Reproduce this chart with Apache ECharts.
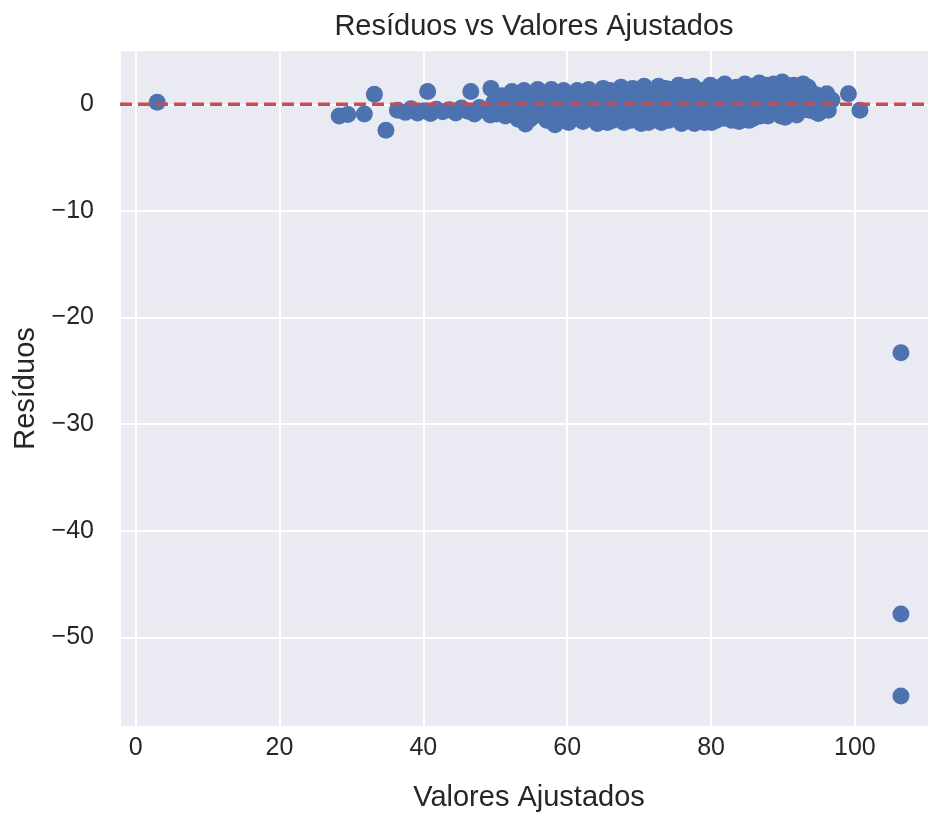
<!DOCTYPE html>
<html>
<head>
<meta charset="utf-8">
<script src="https://cdn.jsdelivr.net/npm/echarts@6/dist/echarts.min.js"></script>
<style>
  html, body { margin: 0; padding: 0; background: #fff; }
  #chart { width: 929px; height: 818px; }
</style>
</head>
<body>
<div id="chart"></div>
<script>
// [valor ajustado, resíduo]
const isolatedPoints = [
  [3.0, 0.2], [28.3, -1.1], [29.5, -0.95], [31.8, -0.9], [33.2, 0.94], [34.8, -2.43],
  [40.6, 1.2], [46.6, 1.2], [49.4, 1.5], [99.1, 1.0], [100.7, -0.56]
];
const outlierPoints = [[106.4, -23.3], [106.4, -47.8], [106.4, -55.5]];
const clusterPoints = [
  [36.4, -0.55], [37.5, -0.75], [38.3, -0.4], [39.2, -0.8], [40.1, -0.6], [41.0, -0.85],
  [41.8, -0.45], [42.7, -0.7], [43.6, -0.5], [44.5, -0.8], [45.3, -0.35], [46.2, -0.65],
  [47.1, -0.9], [47.8, -0.3], [48.6, -0.6], [49.3, -1.0], [49.8, 0.2], [50.5, -0.4],
  [50.9, 0.8], [51.4, -1.1], [51.9, 0.3], [52.3, 1.2], [52.8, -0.6], [53.2, -1.4],
  [53.6, 0.6], [54.0, 1.3], [54.2, -1.85], [54.6, -0.2], [55.1, -1.2], [55.5, 0.9],
  [55.9, 1.4], [56.3, -0.7], [56.8, 0.2], [57.2, -1.5], [57.6, 1.1], [57.9, -0.1],
  [58.3, -1.9], [58.7, 0.7], [59.1, -1.0], [59.5, 1.3], [59.8, -0.4], [60.2, -1.7],
  [60.5, 0.2], [61.0, -0.9], [61.4, 1.3], [61.8, 0.5], [62.2, -1.6], [62.6, -0.3],
  [63.0, 1.4], [63.4, 0.6], [63.8, -1.2], [64.2, -1.8], [64.6, 0.0], [65.0, 1.5],
  [65.4, -0.7], [65.8, 0.8], [66.3, -1.5], [66.7, 1.2], [67.1, -0.2], [67.5, 1.6],
  [67.9, -1.7], [68.3, 0.4], [68.7, -1.0], [69.1, 1.5], [69.5, -0.5], [69.9, 0.9],
  [70.3, -1.8], [70.7, 1.7], [71.1, 0.1], [71.5, -1.3], [71.9, 1.1], [72.3, -0.6],
  [72.7, 1.7], [73.1, -1.7], [73.5, 0.6], [73.9, -0.2], [74.3, 1.4], [74.7, -1.1],
  [75.1, 0.3], [75.5, 1.8], [75.9, -1.8], [76.3, -0.5], [76.7, 1.0], [77.1, -1.4],
  [77.5, 1.7], [77.9, 0.2], [78.3, -0.9], [78.7, 1.3], [79.1, -1.7], [79.5, 0.6],
  [79.9, 1.8], [80.3, -0.3], [80.7, -1.5], [81.1, 1.1], [81.5, 0.0], [81.9, 1.9],
  [82.3, -1.2], [82.7, 0.7], [83.1, -0.6], [83.5, 1.6], [83.9, -1.6], [84.3, 0.3],
  [84.7, 1.9], [85.1, -0.9], [85.5, 1.2], [85.9, -1.3], [86.3, 0.5], [86.7, 2.0],
  [87.1, -0.4], [87.5, 1.4], [87.9, -1.1], [88.3, 0.8], [88.7, 1.9], [89.1, -0.7],
  [89.5, 0.2], [89.9, 2.1], [90.3, -1.2], [90.7, 1.3], [91.1, -0.3], [91.5, 1.8],
  [91.9, -1.0], [92.3, 0.6], [92.8, 1.9], [93.3, -0.5], [93.8, 1.2], [94.3, 0.3],
  [94.9, -0.85], [95.4, 0.6], [96.1, 1.0], [96.3, -0.56], [96.8, 0.4],
  [50.2, -0.9], [50.8, 0.4], [51.6, -0.3], [52.0, 0.9], [52.5, -1.0], [53.0, 0.1],
  [53.4, 1.0], [53.9, -0.8], [54.4, 0.5], [54.8, -1.4], [55.3, 0.0], [55.7, -0.5],
  [56.1, 1.0], [56.6, -1.1], [57.0, 0.6], [57.4, -0.6], [57.8, 1.4], [58.1, -1.3],
  [58.5, 0.3], [58.9, -0.5], [59.3, 0.9], [59.6, -1.5], [60.0, -0.9], [60.8, -1.3],
  [61.2, 0.0], [61.6, -0.5], [62.0, 0.9], [62.4, -1.0], [62.8, 0.3], [63.2, -0.7],
  [63.6, 1.0], [64.0, -0.3], [64.4, 0.7], [64.8, -1.1], [65.2, 0.3], [65.6, -1.7],
  [66.0, 1.3], [66.5, -0.4], [66.9, 0.4], [67.3, -1.1], [67.7, 0.9], [68.1, -0.5],
  [68.5, 1.2], [68.9, -1.5], [69.3, 0.1], [69.7, -1.2], [70.1, 0.5], [70.5, -0.8],
  [70.9, 1.2], [71.3, -1.7], [71.7, 0.5], [72.1, -1.1], [72.5, 0.2], [72.9, 1.0],
  [73.3, -1.0], [73.7, 1.5], [74.1, -1.5], [74.5, 0.8], [74.9, -0.6], [75.3, 1.1],
  [75.7, -1.2], [76.1, 0.5], [76.5, 1.6], [76.9, -0.9], [77.3, 0.6], [77.7, -1.8],
  [78.1, 1.1], [78.5, -0.3], [78.9, 0.3], [79.3, -1.2], [79.7, 1.2], [80.1, -1.7],
  [80.5, 0.6], [80.9, -0.8], [81.3, 1.6], [81.7, -1.3], [82.1, 0.4], [82.5, 1.3],
  [82.9, -1.5], [83.3, 0.1], [83.7, -1.0], [84.1, 1.1], [84.5, -0.3], [84.9, 0.8],
  [85.3, -1.5], [85.7, 1.7], [86.1, -0.5], [86.5, 1.1], [86.9, -1.1], [87.3, 0.4],
  [87.7, 1.8], [88.1, -0.8], [88.5, 1.3], [88.9, -0.2], [89.3, 1.6], [89.7, -1.1],
  [90.1, 0.7], [90.5, 1.8], [90.9, -0.7], [91.3, 0.4], [91.7, 1.1], [92.1, -0.4],
  [92.5, 1.5], [93.0, 0.1], [93.5, 1.6], [94.0, -0.6], [94.6, 0.9], [95.1, 0.1],
  [95.7, -0.3],
  [49.9, -0.5], [51.1, -0.7], [52.6, 0.5], [53.8, -0.3], [55.0, 0.5], [56.4, 0.4],
  [57.5, 0.1], [59.0, 0.2], [60.6, -0.4], [62.5, 0.5], [64.1, 0.3], [65.9, -0.8],
  [67.0, 0.7], [68.8, -0.1], [70.6, 0.0], [72.0, -0.2], [73.8, 0.2], [75.6, -0.3],
  [77.0, 0.1], [78.8, -0.5], [80.0, 0.2], [81.8, -0.6], [83.0, 0.5], [84.6, -0.9],
  [86.0, 0.2], [87.6, -0.3], [89.0, 0.4], [90.6, 0.0], [92.0, 0.2], [93.6, 0.6],
  [95.2, -0.7]
];
const xLimits = [-2.17, 110.3];
const yLimits = [-58.4, 5.1];
const refLineY = 0;

const points = isolatedPoints.concat(clusterPoints, outlierPoints);
const refLine = xLimits.map(x => [x, refLineY]);

const textColor = '#262626';
const fontFamily = '"Liberation Sans", Arial, sans-serif';
const minus = v => String(v).replace('-', '\u2212');

const chart = echarts.init(document.getElementById('chart'));
chart.setOption({
  backgroundColor: '#ffffff',
  animation: false,
  title: {
    text: 'Resíduos vs Valores Ajustados',
    left: 529,
    textAlign: 'center',
    top: 7,
    textStyle: { fontSize: 29, fontWeight: 'normal', color: textColor, fontFamily: fontFamily },
  },
  grid: {
    left: 120,
    right: 0,
    top: 50,
    bottom: 91,
    outerBoundsMode: 'none',
    show: true,
    backgroundColor: '#EAEAF2',
    borderWidth: 0,
  },
  xAxis: {
    type: 'value',
    min: xLimits[0],
    max: xLimits[1],
    splitNumber: 6,
    name: 'Valores Ajustados',
    nameLocation: 'middle',
    nameGap: 56,
    nameTextStyle: { fontSize: 29, color: textColor, fontFamily: fontFamily, padding: [0, 0, 0, 9] },
    axisLine: { show: false },
    axisTick: { show: false },
    axisLabel: {
      fontSize: 25,
      color: textColor,
      fontFamily: fontFamily,
      margin: 9,
      showMinLabel: false,
      showMaxLabel: false,
      formatter: v => (v % 20 === 0 ? minus(v) : ''),
    },
    splitLine: { show: true, lineStyle: { color: '#ffffff', width: 2 } },
  },
  yAxis: {
    type: 'value',
    min: yLimits[0],
    max: yLimits[1],
    splitNumber: 7,
    name: 'Resíduos',
    nameLocation: 'middle',
    nameGap: 76,
    nameRotate: 90,
    nameTextStyle: { fontSize: 29, color: textColor, fontFamily: fontFamily },
    axisLine: { show: false },
    axisTick: { show: false },
    axisLabel: {
      fontSize: 25,
      color: textColor,
      fontFamily: fontFamily,
      margin: 26,
      showMinLabel: false,
      showMaxLabel: false,
      formatter: v => (v % 10 === 0 ? minus(v) : ''),
    },
    splitLine: { show: true, lineStyle: { color: '#ffffff', width: 2 } },
  },
  series: [
    {
      type: 'scatter',
      data: points,
      symbol: 'circle',
      symbolSize: 17,
      itemStyle: { color: '#4C72B0', opacity: 1 },
      z: 2,
    },
    {
      type: 'line',
      data: refLine,
      showSymbol: false,
      silent: true,
      z: 10,
      lineStyle: { color: '#C44E52', width: 3.5, type: [12, 6] },
    },
  ],
});
</script>
</body>
</html>
